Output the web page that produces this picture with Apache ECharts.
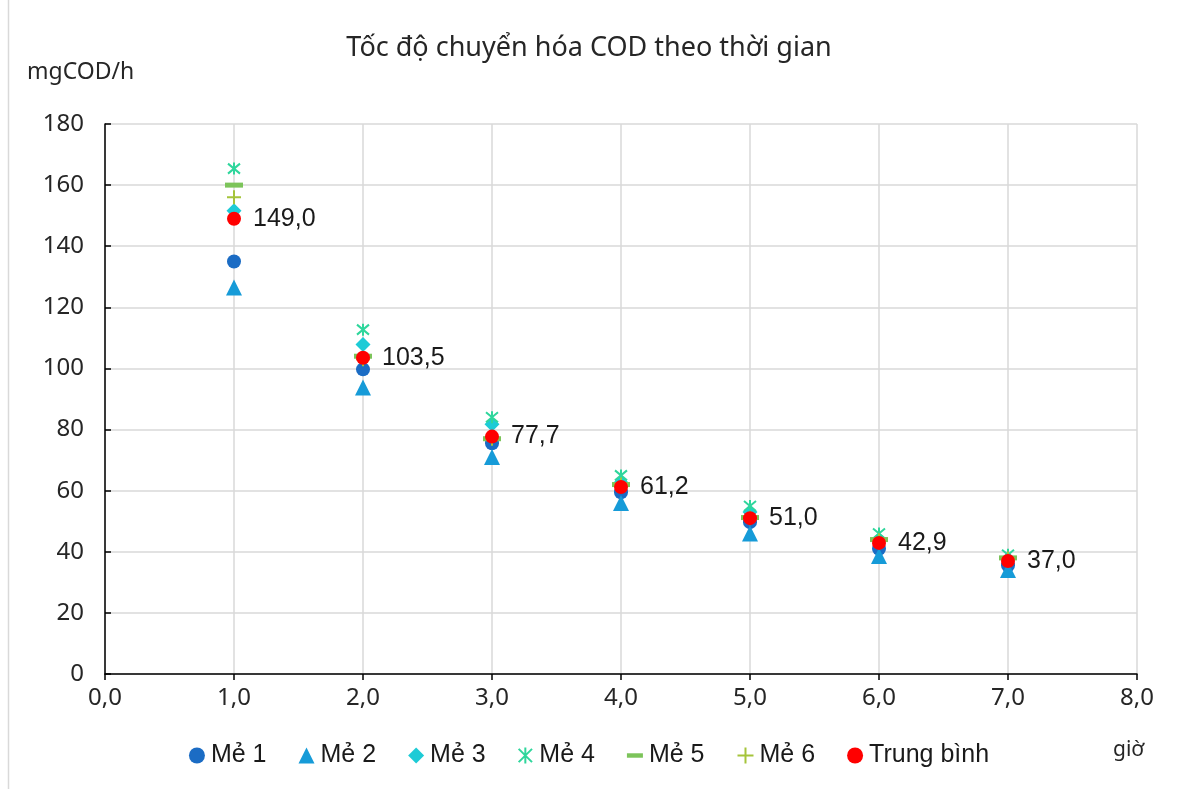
<!DOCTYPE html>
<html>
<head>
<meta charset="utf-8">
<script src="https://cdn.jsdelivr.net/npm/echarts@6/dist/echarts.min.js"></script>
<style>
html,body{margin:0;padding:0;background:#fff;}
#c{width:1178px;height:789px;}
</style>
</head>
<body>
<div id="c"></div>
<script>
const hours = [1, 2, 3, 4, 5, 6, 7];
const me1 = [135, 99.7, 75.5, 59.5, 49.7, 41, 35.6];
const me2 = [126.5, 93.8, 71, 56, 46, 38.6, 34];
const me3 = [151.6, 107.8, 81.7, 62.7, 53, 44, 37.6];
const me4 = [165.4, 112.7, 84, 65, 55, 46, 39];
const me5 = [160, 104, 77, 62, 51.2, 44, 38];
const me6 = [156, 103, 77, 62, 51, 43.8, 37.8];
const avg = [149.0, 103.5, 77.7, 61.2, 51.0, 42.9, 37.0];
const seriesNames = ['Mẻ 1', 'Mẻ 2', 'Mẻ 3', 'Mẻ 4', 'Mẻ 5', 'Mẻ 6', 'Trung bình'];

const pair = arr => hours.map((h, i) => [h, arr[i]]);
const fmt = v => v.toFixed(1).replace('.', ',');

const starPath = 'path://M0,0L10,10M10,0L0,10M5,-1L5,11';
const plusPath = 'path://M5,0L5,10M0,5L10,5';
const dashPath = 'path://M0,0L18,0L18,5L0,5Z';

const chart = echarts.init(document.getElementById('c'));
const font = 'Liberation Sans, Arial, sans-serif';
const axisFont = 'Noto Sans, sans-serif';
const txt = '#262626';

chart.setOption({
  animation: false,
  backgroundColor: '#ffffff',
  title: {
    text: 'Tốc độ chuyển hóa COD theo thời gian',
    left: 'center', top: 30,
    textStyle: {fontFamily: axisFont, fontSize: 27, fontWeight: 'normal', color: txt}
  },
  grid: {left: 105, right: 41, top: 124, bottom: 115, containLabel: false},
  xAxis: {
    type: 'value', min: 0, max: 8, interval: 1,
    name: 'giờ', nameLocation: 'end',
    nameGap: 0,
    nameTextStyle: {fontFamily: axisFont, fontSize: 21, color: txt, padding: [66, 0, 0, -24], verticalAlign: 'top'},
    axisLine: {show: true, lineStyle: {color: '#000', width: 1.5}},
    axisTick: {show: true, inside: false, length: 6, lineStyle: {color: '#000', width: 1.5}},
    axisLabel: {formatter: v => fmt(v), fontFamily: axisFont, fontSize: 24, color: txt, margin: 12},
    splitLine: {show: true, lineStyle: {color: '#d9d9d9', width: 1.5}}
  },
  yAxis: {
    type: 'value', min: 0, max: 180, interval: 20,
    name: 'mgCOD/h', nameLocation: 'end', nameGap: 0,
    nameTextStyle: {fontFamily: axisFont, fontSize: 23, color: txt, align: 'left', padding: [0, 0, 40, -78]},
    axisLine: {show: true, lineStyle: {color: '#000', width: 1.5}},
    axisTick: {show: true, inside: true, length: 6, lineStyle: {color: '#000', width: 1.5}},
    axisLabel: {fontFamily: axisFont, fontSize: 24, color: txt, margin: 21},
    splitLine: {show: true, lineStyle: {color: '#d9d9d9', width: 1.5}}
  },
  legend: {
    bottom: 16, left: 'center',
    itemGap: 32, itemWidth: 16, itemHeight: 16,
    textStyle: {fontFamily: font, fontSize: 25, color: '#1a1a1a', padding: [0, 0, 0, 1]},
    data: [
      {name: seriesNames[0], icon: 'circle'},
      {name: seriesNames[1], icon: 'triangle'},
      {name: seriesNames[2], icon: 'diamond'},
      {name: seriesNames[3], icon: starPath, itemStyle: {borderColor: '#2fd69c', borderWidth: 2, color: '#2fd69c'}},
      {name: seriesNames[4], icon: dashPath, itemStyle: {color: '#7cc45a'}},
      {name: seriesNames[5], icon: plusPath, itemStyle: {borderColor: '#a5c43b', borderWidth: 2, color: '#a5c43b'}},
      {name: seriesNames[6], icon: 'circle'}
    ]
  },
  graphic: [
    {type: 'line', shape: {x1: 8.5, y1: 0, x2: 8.5, y2: 789}, style: {stroke: '#d9d9d9', lineWidth: 1.5}}
  ],
  series: [
    {name: seriesNames[0], type: 'scatter', data: pair(me1), symbol: 'circle', symbolSize: 14,
      itemStyle: {color: '#1b6cc4', opacity: 1}},
    {name: seriesNames[1], type: 'scatter', data: pair(me2), symbol: 'triangle', symbolSize: 16,
      itemStyle: {color: '#169bd8', opacity: 1}},
    {name: seriesNames[2], type: 'scatter', data: pair(me3), symbol: 'diamond', symbolSize: 15,
      itemStyle: {color: '#1dcbd6', opacity: 1}},
    {name: seriesNames[3], type: 'scatter', data: pair(me4), symbol: starPath, symbolSize: 12,
      itemStyle: {color: '#2fd69c', borderColor: '#2fd69c', borderWidth: 2, opacity: 1}},
    {name: seriesNames[4], type: 'scatter', data: pair(me5), symbol: 'rect', symbolSize: [18, 5],
      itemStyle: {color: '#7cc45a', opacity: 1}},
    {name: seriesNames[5], type: 'scatter', data: pair(me6), symbol: plusPath, symbolSize: 14,
      itemStyle: {color: '#a5c43b', borderColor: '#a5c43b', borderWidth: 2, opacity: 1}},
    {name: seriesNames[6], type: 'scatter', data: pair(avg), symbol: 'circle', symbolSize: 14,
      itemStyle: {color: '#ff0000', opacity: 1},
      label: {show: true, position: 'right', distance: 12,
        formatter: p => fmt(p.value[1]),
        fontFamily: font, fontSize: 25, color: '#1a1a1a'}}
  ]
});
</script>
</body>
</html>
